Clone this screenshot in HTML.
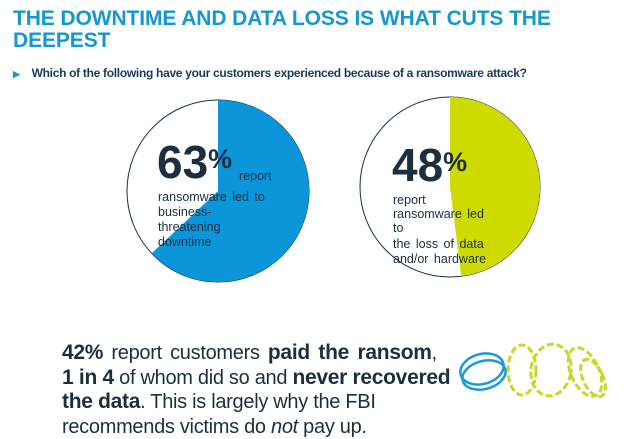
<!DOCTYPE html>
<html><head><meta charset="utf-8"><style>
body{margin:0;width:633px;height:438px;background:#fff;font-family:"Liberation Sans",sans-serif;position:relative;overflow:hidden}
.t{position:absolute;left:13px;top:8px;color:#1597cf;font-weight:bold;font-size:21px;line-height:22px;letter-spacing:-0.1px}
.s{position:absolute;left:13px;top:66px;font-size:12px;color:#1a3a5c;font-weight:bold;letter-spacing:-0.3px}
.s b{color:#1597cf;font-size:9px;margin-right:12px}
.b{position:absolute;left:62px;top:341px;font-size:20px;line-height:24.5px;color:#1b2f40;letter-spacing:-0.3px}
.b strong{font-size:21px}
.l1{word-spacing:3px}
</style></head><body>
<div class="t">THE DOWNTIME AND DATA LOSS IS WHAT CUTS THE<br>DEEPEST</div>
<div class="s"><b>▶</b>Which of the following have your customers experienced because of a ransomware attack?</div>
<svg width="633" height="438" style="position:absolute;left:0;top:0">
<circle cx="218" cy="191" r="91" fill="#fff" stroke="#1b2f40" stroke-width="1"/>
<path d="M218,191 L218,100 A91,91 0 1 1 151.7,253.3 Z" fill="#0a96d8"/>
<circle cx="450" cy="187" r="90" fill="#fff" stroke="#1b2f40" stroke-width="1"/>
<path d="M450,187 L450,97 A90,90 0 0 1 461.3,276.3 Z" fill="#cfdb00"/>
<text x="157" y="178" font-size="46" font-weight="bold" fill="#1b2f40" font-family="Liberation Sans">63<tspan font-size="27" dy="-10">%</tspan></text>
<text x="239" y="180" font-size="12.5" fill="#1b2f40" font-family="Liberation Sans">report</text>
<g font-size="12.5" fill="#1b2f40" font-family="Liberation Sans" word-spacing="2">
<text x="158" y="201">ransomware  led to</text><text x="158" y="216">business-</text><text x="158" y="231">threatening</text><text x="158" y="246">downtime</text>
<text x="393" y="204">report</text><text x="393" y="218">ransomware  led</text><text x="393" y="232">to</text><text x="393" y="248">the loss of data</text><text x="393" y="263">and/or  hardware</text>
</g>
<text x="392" y="181" font-size="46" font-weight="bold" fill="#1b2f40" font-family="Liberation Sans">48<tspan font-size="27" dy="-10">%</tspan></text>
<g fill="none" stroke="#1a9ad6" stroke-width="2.5"><ellipse cx="482" cy="369" rx="22" ry="15" transform="rotate(-15 482 369)"/><ellipse cx="484" cy="375" rx="22" ry="14" transform="rotate(-15 484 375)"/></g>
<g fill="none" stroke="#c8d82a" stroke-width="3" stroke-dasharray="7 3"><ellipse cx="522" cy="370" rx="14" ry="25"/><ellipse cx="551" cy="370" rx="20" ry="26" transform="rotate(10 551 370)"/><ellipse cx="585" cy="372" rx="14" ry="26" transform="rotate(-25 585 372)"/><ellipse cx="593" cy="378" rx="10" ry="20" transform="rotate(-25 593 378)"/></g>
</svg>
<div class="b"><span class="l1"><strong>42%</strong> report customers <strong>paid the ransom</strong>,</span><br><strong>1 in 4</strong> of whom did so and <strong>never recovered<br>the data</strong>. This is largely why the FBI<br>recommends victims do <i>not</i> pay up.</div>
</body></html>
